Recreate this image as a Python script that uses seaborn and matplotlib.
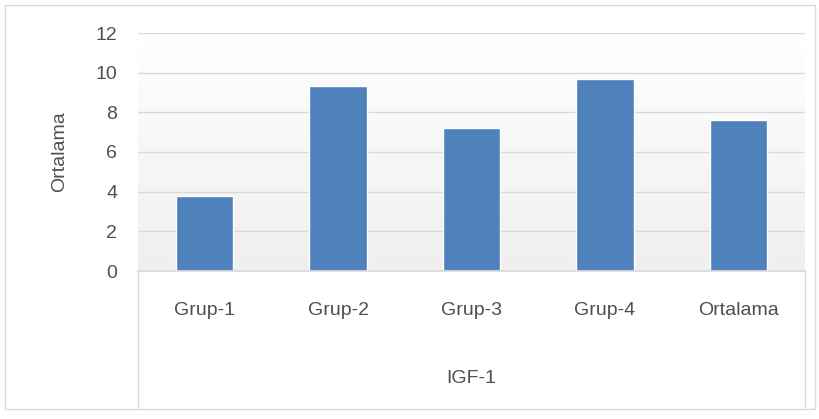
import matplotlib
matplotlib.use("Agg")
import matplotlib.pyplot as plt
import numpy as np
import pandas as pd
import seaborn as sns
from matplotlib.patches import Rectangle

# values
categories = ["Grup-1", "Grup-2", "Grup-3", "Grup-4", "Ortalama"]
values = [3.78, 9.35, 7.2, 9.68, 7.6]
group_label = "IGF-1"
y_label = "Ortalama"
y_ticks = [0, 2, 4, 6, 8, 10, 12]

sns.set_theme(style="white")
plt.rcParams["font.family"] = ["Liberation Sans Narrow", "Liberation Sans", "DejaVu Sans"]

text_color = "#4f4f4f"
bar_color = "#4f81bd"

df = pd.DataFrame({"category": categories, "value": values})

fig = plt.figure(figsize=(8.2, 4.19), dpi=100)
ax = fig.add_axes([138 / 820, 1 - 271 / 419, 667 / 820, 238 / 419])

# soft vertical gradient in the plot area, like the Excel original
grad = np.linspace(0, 1, 256).reshape(-1, 1)
ax.imshow(grad, extent=[0, 1, 0, 1], transform=ax.transAxes, aspect="auto",
          cmap=matplotlib.colors.LinearSegmentedColormap.from_list("bg", ["#efefef", "#ffffff"]),
          origin="lower", zorder=0)

sns.barplot(data=df, x="category", y="value", color=bar_color, width=0.43,
            saturation=1, ax=ax, zorder=3)

ax.set_ylim(0, 12)
ax.set_xlim(-0.5, len(categories) - 0.5)
ax.set_yticks(y_ticks)
ax.yaxis.grid(True, color="#d9d9d9", linewidth=1)
ax.set_axisbelow(False)
for line in ax.get_ygridlines():
    line.set_zorder(1)

for side in ["top", "right", "left"]:
    ax.spines[side].set_visible(False)
ax.spines["bottom"].set_color("#d9d9d9")
ax.spines["bottom"].set_zorder(4)

ax.tick_params(axis="both", length=0, labelsize=14, colors=text_color)
ax.tick_params(axis="x", pad=22)
ax.tick_params(axis="y", pad=15)

ax.set_xlabel(group_label, fontsize=14, color=text_color, labelpad=37)
ax.set_ylabel(y_label, fontsize=14, color=text_color, labelpad=20)

# multi-level category axis dividers
drop = (407 - 271) / 238
for xpos in [0, 1]:
    ax.plot([xpos, xpos], [0, -drop], transform=ax.transAxes, color="#d9d9d9",
            linewidth=1, clip_on=False)

# chart outer border
fig.patches.append(Rectangle((5 / 820, 1 - 409 / 419), 810 / 820, 404 / 419,
                             transform=fig.transFigure, fill=False,
                             edgecolor="#d9d9d9", linewidth=1))

fig.savefig("out.png", dpi=100)
